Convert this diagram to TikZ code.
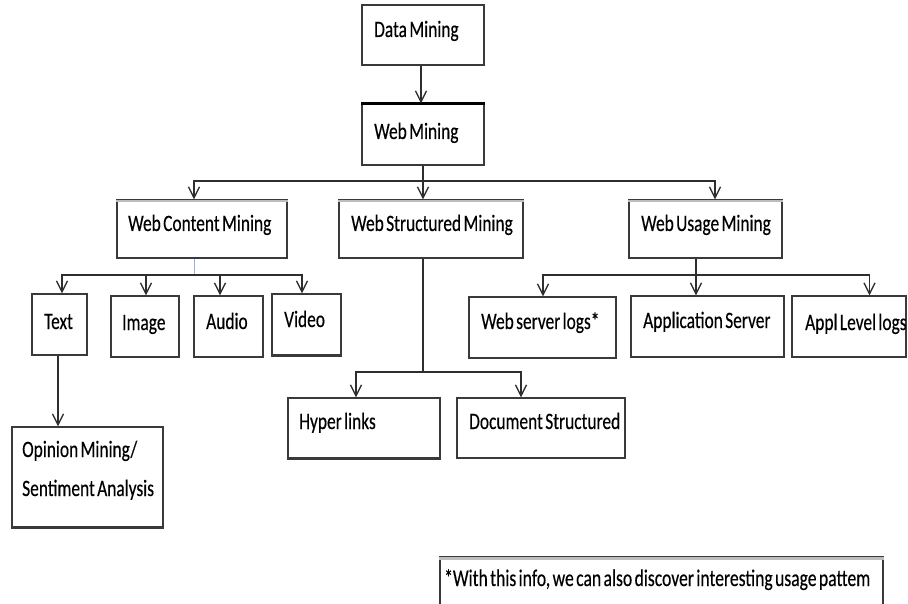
\documentclass[tikz,border=0pt]{standalone}
\usepackage{fontspec}
\setmainfont{Carlito}[FakeStretch=0.74,WordSpace=0.6,FakeBold=0.3]
\usetikzlibrary{arrows.meta}
\definecolor{boxc}{HTML}{3A3A3A}
\definecolor{linec}{HTML}{2E2E2E}
\definecolor{shade}{HTML}{BDBDBD}
\definecolor{bluel}{HTML}{8FB3E0}
\newcommand\mybox[5]{\node[box,minimum width={#4-#2},minimum height={#5-#3}] (#1) at ({(#2+#4)/2},{(#3+#5)/2}) {};}
\begin{document}
\begin{tikzpicture}[x=1pt,y=-1pt,
  box/.style={draw=boxc, line width=1.4pt, inner sep=0pt, fill=white},
  lbl/.style={anchor=base west, inner sep=0pt, font=\fontsize{23.5}{25}\selectfont, text=black},
  conn/.style={draw=linec, line width=1.4pt},
  arr/.style={-{Straight Barb[length=11pt,width=11pt,line width=1.3pt]}},
  heavy/.style={draw=black, line width=2.6pt},
  shadow/.style={draw=shade, line width=2.4pt}]
\useasboundingbox (0,0) rectangle (908,604);
% boxes
\mybox{dm}{362}{5}{484}{65}
\mybox{wm}{362}{104}{484}{165}
\mybox{wcm}{117}{200}{287}{258}
\mybox{wsm}{339}{200}{523}{258}
\mybox{wum}{629}{200}{782}{258}
\mybox{text}{32}{294}{87}{355}
\mybox{image}{111}{296}{179}{357}
\mybox{audio}{194}{296}{263}{357}
\mybox{video}{272}{294}{341}{355}
\mybox{opin}{12}{427}{163}{527}
\mybox{hyper}{288}{398}{440}{458}
\mybox{docs}{457}{398}{625}{458}
\mybox{wsl}{469}{297}{616}{358}
\mybox{apps}{631}{296}{784}{357}
\mybox{appl}{792}{296}{906}{357}
\mybox{note}{440}{557}{883}{620}
% accents
\draw[heavy] (wm.north west) -- (wm.north east);
\draw[shadow] ([yshift=-2pt]wcm.north west) -- ([yshift=-2pt]wcm.north east);
\draw[shadow] ([yshift=-2pt]wsm.north west) -- ([yshift=-2pt]wsm.north east);
\draw[shadow] ([yshift=-2pt]wum.north west) -- ([yshift=-2pt]wum.north east);
\draw[shadow] ([yshift=-2pt]note.north west) -- ([yshift=-2pt]note.north east);
\draw[draw=boxc,line width=2.4pt] (video.south west) -- (video.south east);
\draw[draw=boxc,line width=2.4pt] (opin.south west) -- (opin.south east);
\draw[draw=boxc,line width=2.2pt] (hyper.south west) -- (hyper.south east);
% labels
\node[lbl] (tdm) at (374,37) {Data Mining};
\node[lbl] (twm) at (374,139) {Web Mining};
\node[lbl] (twcm) at (128,231) {Web Content Mining};
\node[lbl] (twsm) at (351,231) {Web Structured Mining};
\node[lbl] (twum) at (641,231) {Web Usage Mining};
\node[lbl] (ttext) at (44,329) {Text};
\node[lbl] (timage) at (122,330) {Image};
\node[lbl] (taudio) at (206,329) {Audio};
\node[lbl] (tvideo) at (284,327) {Video};
\node[lbl] (twsl) at (481,329) {Web server logs*};
\node[lbl] (tapps) at (643,328) {Application Server};
\node[lbl] (tappl) at (805,330) {Appl Level logs};
\node[lbl] (topin1) at (22,457) {Opinion Mining/};
\node[lbl] (topin2) at (22,496) {Sentiment Analysis};
\node[lbl] (thyper) at (299,429) {Hyper links};
\node[lbl] (tdocs) at (469,429) {Document Structured};
\node[lbl,font=\fontsize{23.8}{26}\selectfont] (tnote) at (444,586) {*With this info, we can also discover interesting usage pattem};
% junctions
\coordinate (j1) at (423,181);
\coordinate (c1) at (194,275);
\coordinate (s1) at (423,372);
\coordinate (u1) at (696,275);
% connectors
\draw[conn,arr] ([xshift=-2pt]dm.south) -- ([xshift=-2pt]wm.north);
\draw[conn] (wm.south) -- (j1);
\draw[conn,arr] (j1) -| ([xshift=-8pt]wcm.north);
\draw[conn,arr] (j1) -- ([xshift=-8pt]wsm.north);
\draw[conn,arr] (j1) -| ([xshift=9.5pt]wum.north);
% content
\draw[draw=bluel,line width=1pt] ([xshift=-8pt]wcm.south) -- (c1);
\draw[conn,arr] (c1) -| ([xshift=2.5pt]text.north);
\draw[conn,arr] (c1) -| ([xshift=1pt]image.north);
\draw[conn,arr] (c1) -| ([xshift=-8.5pt]audio.north);
\draw[conn,arr] (c1) -| ([xshift=-4.5pt]video.north);
\draw[conn,arr] ([xshift=-1.5pt]text.south) -- ([xshift=-29.5pt]opin.north);
% structured
\draw[conn] ([xshift=-8pt]wsm.south) -- (s1);
\draw[heavy,line width=2.4pt] ([xshift=-8pt]hyper.north |- s1) -- ([xshift=-20pt]docs.north |- s1);
\draw[conn,arr] (s1) -| ([xshift=-8pt]hyper.north);
\draw[conn,arr] (s1) -| ([xshift=-20pt]docs.north);
% usage
\draw[conn,arr] ([xshift=-9.5pt]wum.south) -- ([xshift=-11.5pt]apps.north);
\draw[conn,arr] (u1) -| ([xshift=0.5pt]wsl.north);
\draw[conn,arr] (u1) -| ([xshift=20.5pt]appl.north);
\end{tikzpicture}
\end{document}
